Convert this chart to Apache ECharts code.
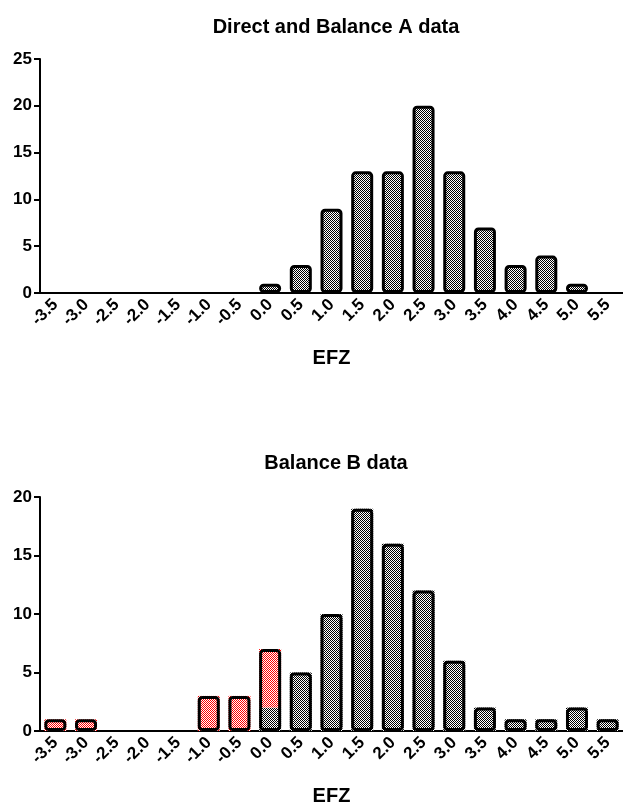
<!DOCTYPE html>
<html><head><meta charset="utf-8">
<script src="https://cdn.jsdelivr.net/npm/echarts@6/dist/echarts.min.js"></script>
<style>html,body{margin:0;padding:0;background:#fff}#c{width:623px;height:807px}</style>
</head><body><div id="c"></div>
<script>
const categories = ['-3.5','-3.0','-2.5','-2.0','-1.5','-1.0','-0.5','0.0','0.5','1.0','1.5','2.0','2.5','3.0','3.5','4.0','4.5','5.0','5.5'];
const directA = [0,0,0,0,0,0,0,1,3,9,13,13,20,13,7,3,4,1,0];
const balanceBGray = [0,0,0,0,0,0,0,2,5,10,19,16,12,6,2,1,1,2,1];
const balanceBRed = [1,1,0,0,0,3,3,5,0,0,0,0,0,0,0,0,0,0,0];
const titleA = 'Direct and Balance A data';
const titleB = 'Balance B data';
const axisName = 'EFZ';
const yMaxA = 25, yMaxB = 20, yStep = 5;

function checker(c1, c2) {
  const cv = document.createElement('canvas');
  cv.width = 2; cv.height = 2;
  const g = cv.getContext('2d');
  g.fillStyle = c2; g.fillRect(0, 0, 2, 2);
  g.fillStyle = c1; g.fillRect(0, 0, 1, 1); g.fillRect(1, 1, 1, 1);
  return { image: cv, repeat: 'repeat' };
}
const grayPat = checker('#000000', '#ffffff');
const redPat = checker('#ff0000', '#ffffff');
const FONT = '"Liberation Sans", Arial, Helvetica, sans-serif';
const nz = a => a.map(v => v === 0 ? '-' : v);
const totalsB = balanceBGray.map((v, i) => v + balanceBRed[i]);

function xAx(gi) {
  return {
    type: 'category', gridIndex: gi, data: categories,
    name: axisName, nameLocation: 'middle', nameGap: 55,
    nameTextStyle: { fontFamily: FONT, fontWeight: 'bold', fontSize: 20, color: '#000' },
    axisLine: { lineStyle: { color: '#000', width: 2 } },
    axisTick: { alignWithLabel: true, length: 6, lineStyle: { color: '#000', width: 2 } },
    axisLabel: { rotate: 45, margin: 9, interval: 0, fontFamily: FONT, fontWeight: 'bold', fontSize: 17, color: '#000' },
    splitLine: { show: false }
  };
}
function yAx(gi, max) {
  return {
    type: 'value', gridIndex: gi, min: 0, max: max, interval: yStep,
    axisLine: { show: true, lineStyle: { color: '#000', width: 2 } },
    axisTick: { show: true, length: 6, lineStyle: { color: '#000', width: 2 } },
    axisLabel: { margin: 8, fontFamily: FONT, fontWeight: 'bold', fontSize: 17, color: '#000' },
    splitLine: { show: false }
  };
}
const chart = echarts.init(document.getElementById('c'), null, { renderer: 'canvas' });
chart.setOption({
  animation: false,
  backgroundColor: '#fff',
  title: [
    { text: titleA, left: 331, top: 12, textAlign: 'center', textStyle: { fontFamily: FONT, fontWeight: 'bold', fontSize: 20, color: '#000' } },
    { text: titleB, left: 331, top: 448, textAlign: 'center', textStyle: { fontFamily: FONT, fontWeight: 'bold', fontSize: 20, color: '#000' } }
  ],
  grid: [
    { left: 40, top: 59, width: 586, height: 234 },
    { left: 40, top: 497, width: 586, height: 235 }
  ],
  xAxis: [xAx(0), xAx(1)],
  yAxis: [yAx(0, yMaxA), yAx(1, yMaxB)],
  series: [
    { type: 'bar', xAxisIndex: 0, yAxisIndex: 0, data: nz(directA), barWidth: 22,
      itemStyle: { color: grayPat, borderColor: '#000', borderWidth: 3, borderRadius: 3 } },
    { type: 'bar', xAxisIndex: 1, yAxisIndex: 1, stack: 'b', data: balanceBGray, barWidth: 22,
      itemStyle: { color: grayPat, borderWidth: 0 } },
    { type: 'bar', xAxisIndex: 1, yAxisIndex: 1, stack: 'b', data: balanceBRed, barWidth: 22,
      itemStyle: { color: redPat, borderWidth: 0 } },
    { type: 'bar', xAxisIndex: 1, yAxisIndex: 1, data: nz(totalsB), barWidth: 22, barGap: '-100%', z: 5,
      itemStyle: { color: 'rgba(0,0,0,0)', borderColor: '#000', borderWidth: 3, borderRadius: 3 } }
  ]
});
</script></body></html>
